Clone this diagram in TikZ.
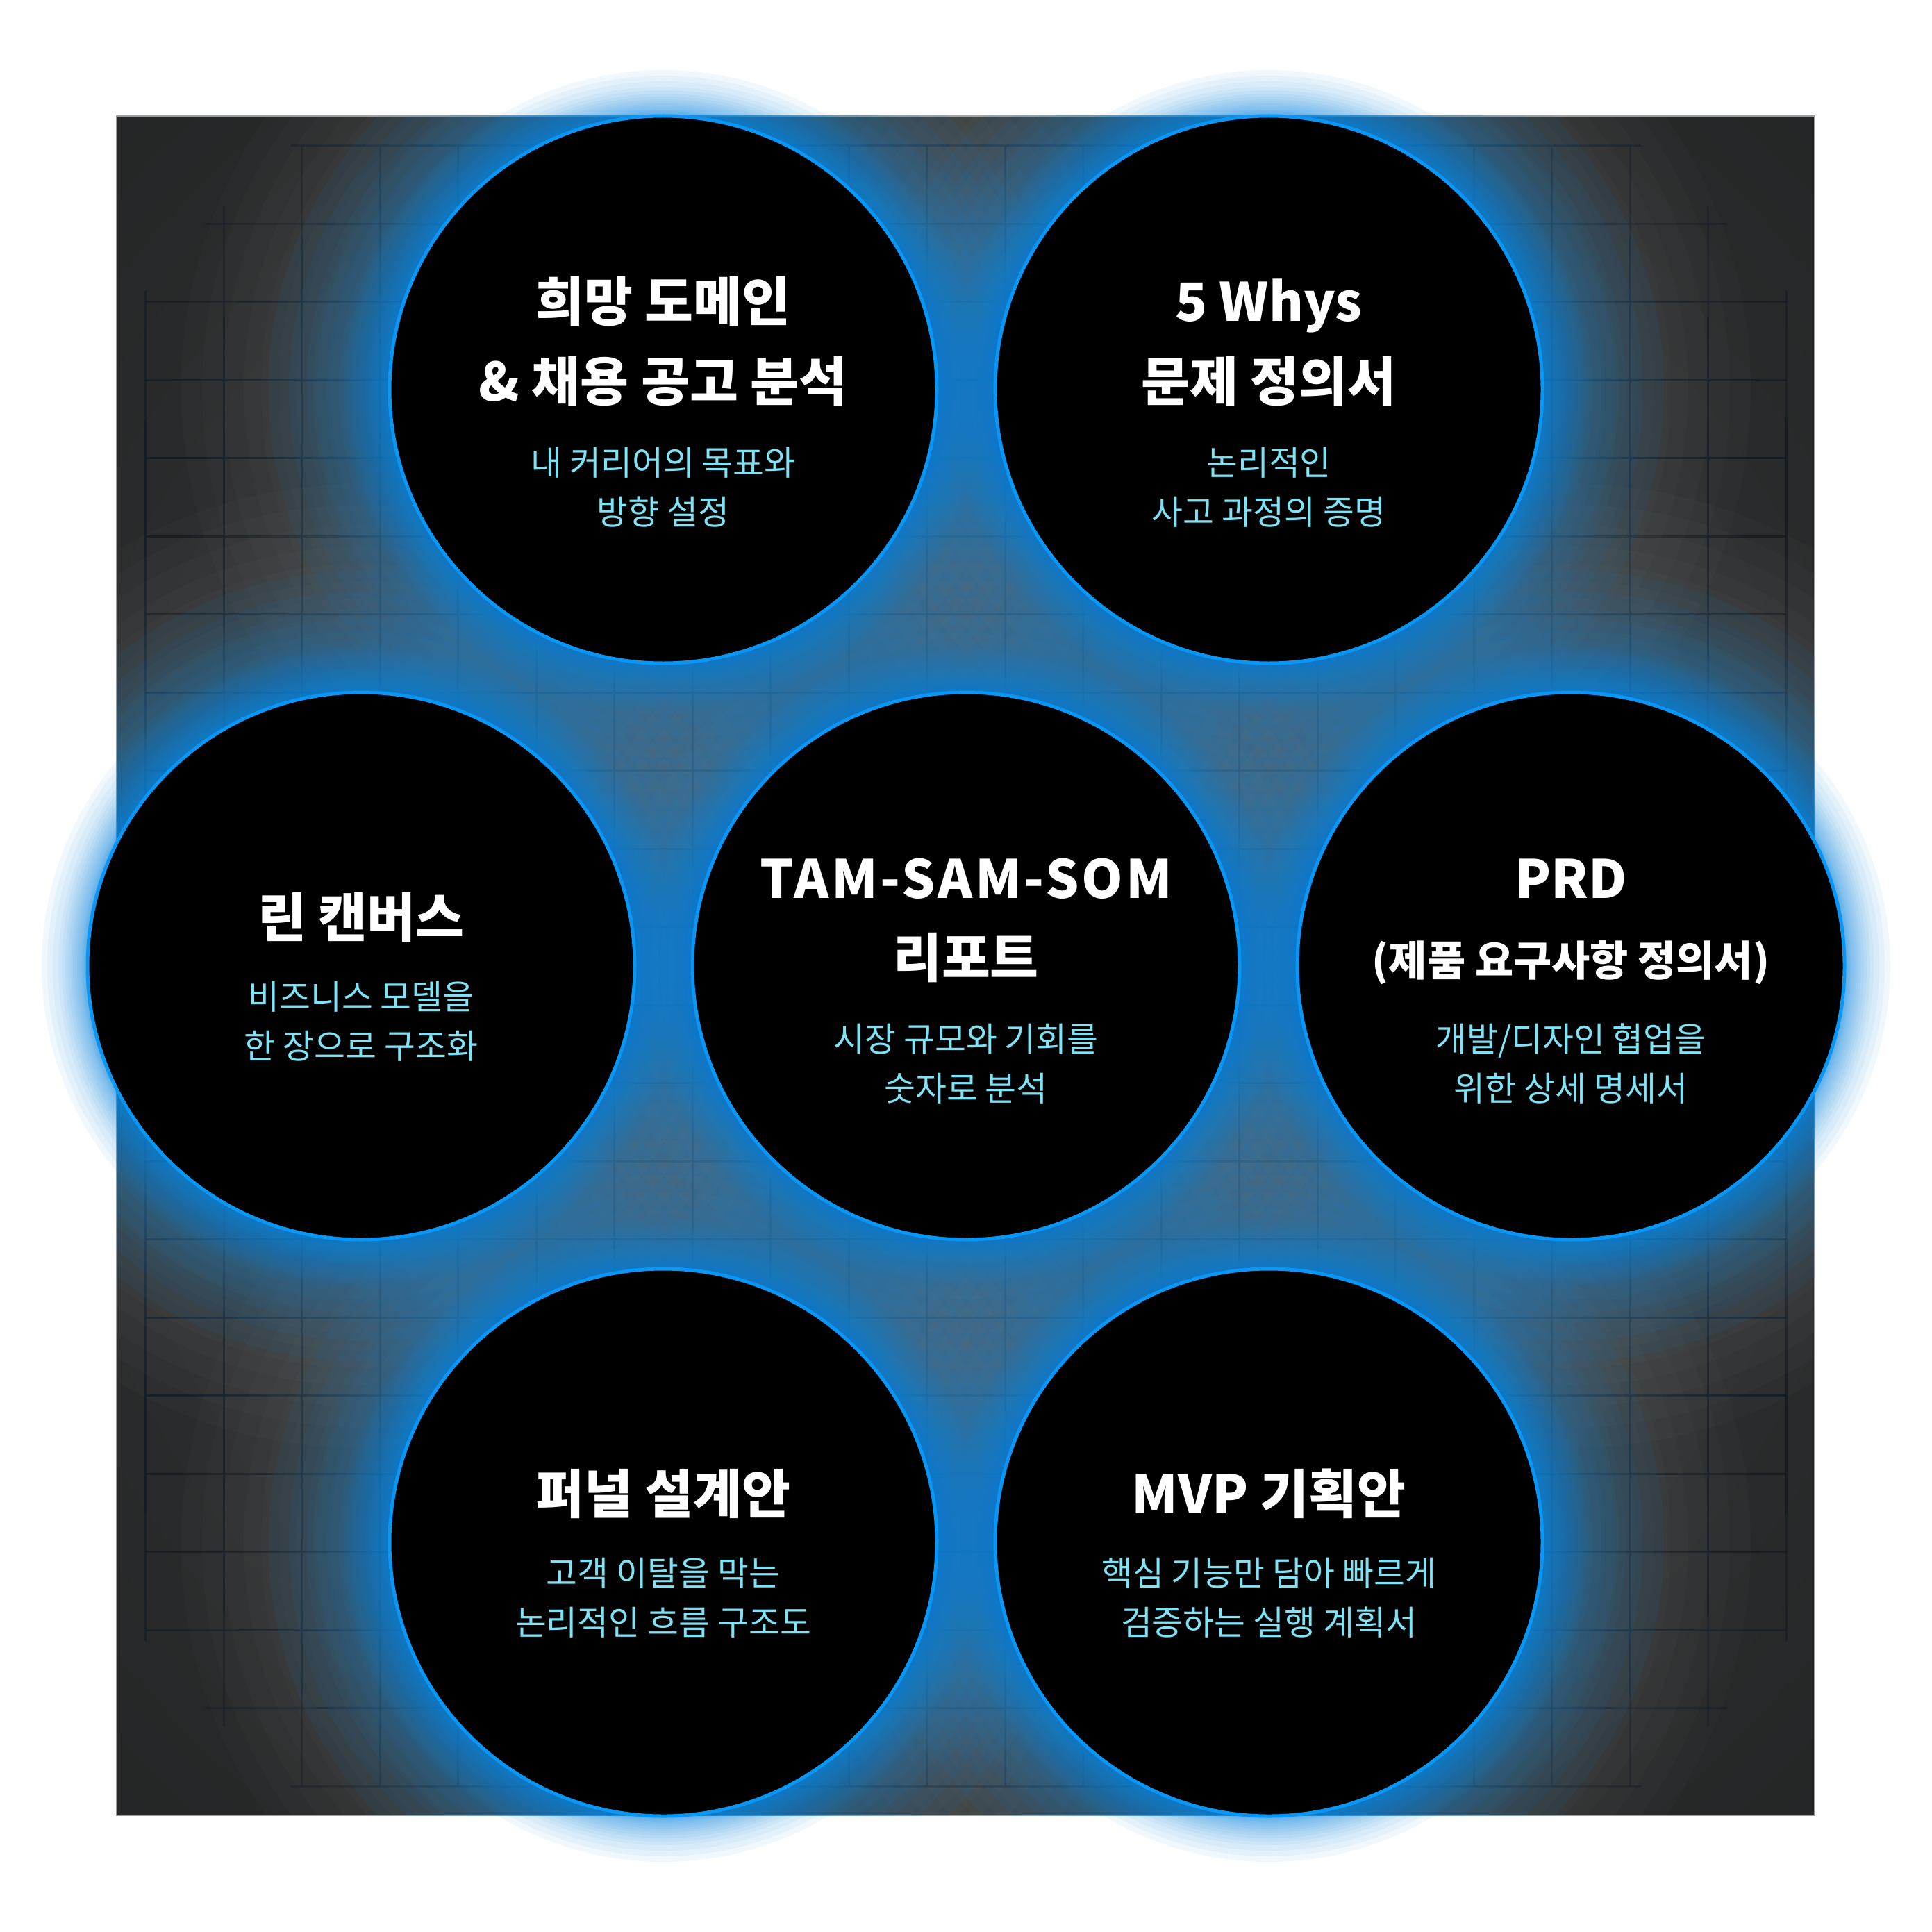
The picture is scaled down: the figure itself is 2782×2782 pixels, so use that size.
\documentclass[tikz,border=0pt]{standalone}
\usepackage{fontspec}
\setmainfont{Noto Sans CJK KR}
\definecolor{bgA}{HTML}{303234}
\definecolor{bgB}{HTML}{2A2C2D}
\definecolor{bgC}{HTML}{202121}
\definecolor{bgD}{HTML}{1B1C1C}
\definecolor{rimblue}{HTML}{0A96F5}
\definecolor{glowblue}{HTML}{0A88E2}
\definecolor{hazec}{HTML}{D4DEE8}
\definecolor{subcyan}{HTML}{80E3F5}
\definecolor{gridc}{HTML}{0E1A24}
\definecolor{framec}{HTML}{9A9A9A}
\pgfdeclareradialshading{bgshade}{\pgfpointorigin}{color(0bp)=(bgA); color(25bp)=(bgB); color(44bp)=(bgC); color(56bp)=(bgC); color(62bp)=(bgD); color(75bp)=(bgD)}
\begin{document}
\begin{tikzpicture}[x=0.25pt,y=-0.25pt,
  bubble/.style={circle, fill=black, draw=rimblue, line width=1.25pt, minimum size=197pt, inner sep=0pt},
  ttl/.style={font=\bfseries\fontsize{19}{19}\selectfont, text=white, inner sep=0pt, anchor=base},
  ttlwide/.style={font=\bfseries\fontsize{19}{19}\selectfont\addfontfeature{LetterSpace=5}, text=white, inner sep=0pt, anchor=base},
  ttlsmall/.style={font=\bfseries\fontsize{15}{15}\selectfont, text=white, inner sep=0pt, anchor=base},
  sub/.style={font=\fontsize{12.2}{12.2}\selectfont, text=subcyan, inner sep=0pt, anchor=base},
  gridline/.style={draw=gridc, line width=0.75pt},
  haze/.style={fill=hazec, opacity=0.018},
  glownear/.style={fill=glowblue, opacity=0.055},
  glowwide/.style={fill=glowblue, opacity=0.065}]
\useasboundingbox (0,0) rectangle (2782,2782);
\fill[white] (0,0) rectangle (2782,2782);
\shade[shading=bgshade] (168,167) rectangle (2613,2614);
% grid (two passes: stronger in the middle, fainter near the rim)
\begin{scope}
  \clip (168,167) rectangle (2613,2614);
  \clip (1391,1391) circle[radius=1530];
  \foreach \k in {-11,...,10}{
    \draw[gridline, opacity=0.55] ({1391+(\k+0.5)*112.5},209.75) -- ({1391+(\k+0.5)*112.5},2572.25);
    \draw[gridline, opacity=0.55] (209.75,{1391+(\k+0.5)*112.5}) -- (2572.25,{1391+(\k+0.5)*112.5});
  }
\end{scope}
\begin{scope}
  \clip (1391,1391) circle[radius=1420];
  \foreach \k in {-11,...,10}{
    \draw[gridline, opacity=0.55] ({1391+(\k+0.5)*112.5},209.75) -- ({1391+(\k+0.5)*112.5},2572.25);
    \draw[gridline, opacity=0.55] (209.75,{1391+(\k+0.5)*112.5}) -- (2572.25,{1391+(\k+0.5)*112.5});
  }
\end{scope}
\draw[framec, line width=0.5pt] (168,167) rectangle (2613,2614);
\begin{scope}
  \clip (168,167) rectangle (2613,2614);
  % haze (soft light around each disc)
  \foreach \cx/\cy in {955/561,1827/561,520/1391,1391/1391,2262/1391,955/2221,1827/2221}{
    \foreach \d in {300,270,240,210,185,160,135,110,85,60,35,10}{
      \fill[haze] (\cx,\cy) circle[radius=394+\d];
    }
  }
  % wide glow, only on the dark panel
  \foreach \cx/\cy in {955/561,1827/561,520/1391,1391/1391,2262/1391,955/2221,1827/2221}{
    \foreach \d in {175,145,120,105,90,73,64,55,46,34,22,10}{
      \fill[glowwide] (\cx,\cy) circle[radius=394+\d];
    }
  }
\end{scope}
% near glow, everywhere
\foreach \cx/\cy in {955/561,1827/561,520/1391,1391/1391,2262/1391,955/2221,1827/2221}{
  \foreach \d in {66,58,50,42,37,32,28,24,21,18,15,12,9.5,8,6.5,5,3.5,2}{
    \fill[glownear] (\cx,\cy) circle[radius=394+\d];
  }
}
% circles
\node[bubble] (c1) at (955,561) {};
\node[bubble] (c2) at (1827,561) {};
\node[bubble] (c3) at (520,1391) {};
\node[bubble] (c4) at (1391,1391) {};
\node[bubble] (c5) at (2262,1391) {};
\node[bubble] (c6) at (955,2221) {};
\node[bubble] (c7) at (1827,2221) {};
% texts
\node[ttl] (c1a) at (955,463) {희망 도메인};
\node[ttl] (c1b) at (955,577) {\& 채용 공고 분석};
\node[sub] (c1c) at (955,684) {내 커리어의 목표와};
\node[sub] (c1d) at (955,755) {방향 설정};

\node[ttl] (c2a) at (1827,463) {5 Whys};
\node[ttl] (c2b) at (1827,577) {문제 정의서};
\node[sub] (c2c) at (1827,684) {논리적인};
\node[sub] (c2d) at (1827,755) {사고 과정의 증명};

\node[ttl] (c3a) at (520,1349) {린 캔버스};
\node[sub] (c3c) at (520,1453) {비즈니스 모델을};
\node[sub] (c3d) at (520,1524) {한 장으로 구조화};

\node[ttlwide] (c4a) at (1391,1293) {TAM-SAM-SOM};
\node[ttl] (c4b) at (1391,1407) {리포트};
\node[sub] (c4c) at (1391,1514) {시장 규모와 기회를};
\node[sub] (c4d) at (1391,1585) {숫자로 분석};

\node[ttl] (c5a) at (2262,1293) {PRD};
\node[ttlsmall] (c5b) at (2262,1405) {(제품 요구사항 정의서)};
\node[sub] (c5c) at (2262,1514) {개발/디자인 협업을};
\node[sub] (c5d) at (2262,1585) {위한 상세 명세서};

\node[ttl] (c6a) at (955,2179) {퍼널 설계안};
\node[sub] (c6c) at (955,2283) {고객 이탈을 막는};
\node[sub] (c6d) at (955,2354) {논리적인 흐름 구조도};

\node[ttl] (c7a) at (1827,2179) {MVP 기획안};
\node[sub] (c7c) at (1827,2283) {핵심 기능만 담아 빠르게};
\node[sub] (c7d) at (1827,2354) {검증하는 실행 계획서};
\end{tikzpicture}
\end{document}
